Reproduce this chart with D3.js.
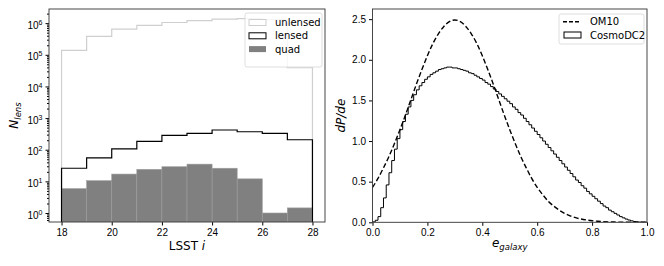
<!DOCTYPE html>
<html>
<head>
<meta charset="utf-8">
<script src="https://cdn.jsdelivr.net/npm/d3@7"></script>
<style>
  body { margin: 0; background: #fff; }
  svg { font-family: "DejaVu Sans", sans-serif; }
  .tick text { font-size: 10px; fill: #000; }
</style>
</head>
<body>
<svg></svg>
<script>
// ---------- data ----------
// left panel: magnitude bins (LSST i), counts per bin
const binEdges = [18, 19, 20, 21, 22, 23, 24, 25, 26, 27, 28];
const unlensed = [1.37e5, 3.8e5, 6.5e5, 8.5e5, 1.05e6, 1.2e6, 1.35e6, 1.4e6, 1.3e6, 3.9e4];
const lensed = [26, 55, 107, 183, 285, 330, 420, 370, 330, 207];
const quad = [5.9, 10.5, 17, 24, 29, 35, 26, 12, 1.0, 1.45];

// right panel: OM10 curve, sampled every 0.02 in e
const om10E = d3.range(0, 51).map(i => i * 0.02);
const om10P = [0.43, 0.54, 0.67, 0.81, 0.97, 1.14, 1.32, 1.51, 1.70, 1.88,
  2.05, 2.20, 2.32, 2.41, 2.47, 2.49, 2.47, 2.41, 2.32, 2.20,
  2.05, 1.88, 1.70, 1.51, 1.32, 1.14, 0.97, 0.81, 0.67, 0.54,
  0.43, 0.34, 0.26, 0.20, 0.15, 0.11, 0.08, 0.057, 0.04, 0.028,
  0.019, 0.013, 0.008, 0.005, 0.003, 0.002, 0.001, 0.001, 0, 0, 0];

// CosmoDC2 histogram, 100 bins of width 0.01
const dcBinWidth = 0.01;
const dcP = [0.005, 0.025, 0.07, 0.18, 0.30, 0.46, 0.61, 0.76, 0.90, 1.03,
  1.14, 1.24, 1.33, 1.42, 1.50, 1.57, 1.63, 1.68, 1.72, 1.76,
  1.79, 1.82, 1.84, 1.86, 1.88, 1.89, 1.90, 1.91, 1.91, 1.90,
  1.90, 1.89, 1.88, 1.87, 1.86, 1.84, 1.83, 1.81, 1.79, 1.77,
  1.75, 1.72, 1.70, 1.67, 1.64, 1.61, 1.58, 1.55, 1.52, 1.49,
  1.46, 1.42, 1.39, 1.35, 1.32, 1.28, 1.24, 1.20, 1.16, 1.12,
  1.08, 1.04, 1.00, 0.96, 0.92, 0.88, 0.84, 0.80, 0.76, 0.72,
  0.68, 0.64, 0.60, 0.56, 0.52, 0.49, 0.45, 0.42, 0.38, 0.35,
  0.32, 0.29, 0.26, 0.23, 0.20, 0.18, 0.15, 0.13, 0.11, 0.09,
  0.07, 0.055, 0.04, 0.028, 0.018, 0.01, 0.005, 0.002, 0.001, 0.0005];

const leftXTicks = [18, 20, 22, 24, 26, 28];
const leftYTicks = [1, 10, 100, 1e3, 1e4, 1e5, 1e6];
const rightXTicks = [0, 0.2, 0.4, 0.6, 0.8, 1.0];
const rightYTicks = [0, 0.5, 1.0, 1.5, 2.0, 2.5];

// ---------- setup ----------
const size = {w: 664, h: 266};
const svg = d3.select('svg').attr('width', size.w).attr('height', size.h);

const L = {l: 49, r: 325, t: 9, b: 222};
const R = {l: 372.5, r: 647, t: 9, b: 222.3};

// left scales
const xL = d3.scaleLinear().domain([17.5, 28.5]).range([L.l, L.r]);
const yL = d3.scaleLog().domain([0.52, 2.8e6]).range([L.b, L.t]);
// right scales
const xR = d3.scaleLinear().domain([0, 1]).range([R.l, R.r]);
const yR = d3.scaleLinear().domain([0, 2.625]).range([R.b, R.t]);

svg.append('defs').append('clipPath').attr('id', 'clipL')
  .append('rect').attr('x', L.l).attr('y', L.t).attr('width', L.r - L.l).attr('height', L.b - L.t);
svg.select('defs').append('clipPath').attr('id', 'clipR')
  .append('rect').attr('x', R.l).attr('y', R.t).attr('width', R.r - R.l).attr('height', R.b - R.t);

// step outline for histtype='step'
function stepPath(edges, vals, x, y, base) {
  let p = `M${x(edges[0])},${y(base)}`;
  vals.forEach((v, i) => {
    p += `L${x(edges[i])},${y(v)}L${x(edges[i + 1])},${y(v)}`;
  });
  p += `L${x(edges[edges.length - 1])},${y(base)}`;
  return p;
}

// ---------- LEFT PANEL ----------
const gL = svg.append('g').attr('clip-path', 'url(#clipL)');

// quad bars (filled)
gL.selectAll('rect.quad')
  .data(quad)
  .join('rect')
  .attr('class', 'quad')
  .attr('x', (d, i) => xL(binEdges[i]))
  .attr('width', (d, i) => xL(binEdges[i + 1]) - xL(binEdges[i]))
  .attr('y', d => yL(d))
  .attr('height', d => yL(0.52) - yL(d))
  .attr('fill', '#808080')
  .attr('stroke', '#9c9c9c')
  .attr('stroke-width', 0.6);

gL.append('path')
  .attr('d', stepPath(binEdges, unlensed, xL, yL, 0.52))
  .attr('fill', 'none')
  .attr('stroke', '#cfcfcf')
  .attr('stroke-width', 1.2);

gL.append('path')
  .attr('d', stepPath(binEdges, lensed, xL, yL, 0.52))
  .attr('fill', 'none')
  .attr('stroke', '#000')
  .attr('stroke-width', 1.2);

// axes
svg.append('g')
  .attr('transform', `translate(0,${L.b})`)
  .call(d3.axisBottom(xL).tickValues(leftXTicks).tickSize(3.5).tickPadding(3).tickFormat(d3.format('d')))
  .call(g => g.select('.domain').remove());

const minorL = [];
for (let e = -1; e <= 6; e++) {
  for (let k = 2; k <= 9; k++) {
    const v = k * Math.pow(10, e);
    if (v > 0.52 && v < 2.8e6) minorL.push(v);
  }
}
svg.append('g')
  .attr('transform', `translate(${L.l},0)`)
  .call(d3.axisLeft(yL).tickValues(minorL).tickSize(2).tickFormat(''))
  .call(g => g.select('.domain').remove());

const yAxL = svg.append('g')
  .attr('transform', `translate(${L.l},0)`)
  .call(d3.axisLeft(yL).tickValues(leftYTicks).tickSize(3.5).tickPadding(3).tickFormat(''))
  .call(g => g.select('.domain').remove());
yAxL.selectAll('.tick text').each(function (d) {
  const t = d3.select(this);
  t.append('tspan').text('10');
  t.append('tspan').attr('dy', -4).attr('font-size', '7px').text(Math.round(Math.log10(d)));
}).attr('dy', '0.5em');

svg.append('rect')
  .attr('x', L.l).attr('y', L.t).attr('width', L.r - L.l).attr('height', L.b - L.t)
  .attr('fill', 'none').attr('stroke', '#333').attr('stroke-width', 0.9);

svg.append('text')
  .attr('x', (L.l + L.r) / 2).attr('y', 250)
  .attr('text-anchor', 'middle').attr('font-size', '12px')
  .call(t => {
    t.append('tspan').text('LSST ');
    t.append('tspan').attr('font-style', 'italic').text('i');
  });

svg.append('text')
  .attr('transform', `translate(18,${(L.t + L.b) / 2}) rotate(-90)`)
  .attr('text-anchor', 'middle').attr('font-size', '12px').attr('font-style', 'italic')
  .call(t => {
    t.append('tspan').text('N');
    t.append('tspan').attr('dy', 3).attr('font-size', '8.5px').text('lens');
  });

// legend (left)
const legL = svg.append('g');
legL.append('rect')
  .attr('x', 245).attr('y', 13).attr('width', 77).attr('height', 54).attr('rx', 2)
  .attr('fill', 'rgba(255,255,255,0.8)').attr('stroke', '#d6d6d6').attr('stroke-width', 0.8);
const legLItems = [
  {label: 'unlensed', fill: 'none', stroke: '#cfcfcf'},
  {label: 'lensed', fill: 'none', stroke: '#000'},
  {label: 'quad', fill: '#808080', stroke: 'none'}
];
legLItems.forEach((d, i) => {
  const yy = 22.5 + i * 13.3;
  legL.append('rect').attr('x', 249).attr('y', yy - 3).attr('width', 17).attr('height', 6)
    .attr('fill', d.fill).attr('stroke', d.stroke).attr('stroke-width', 1);
  legL.append('text').attr('x', 275).attr('y', yy).attr('dy', '0.35em')
    .attr('font-size', '10px').text(d.label);
});

// ---------- RIGHT PANEL ----------
const gR = svg.append('g').attr('clip-path', 'url(#clipR)');

const dcEdges = d3.range(0, dcP.length + 1).map(i => i * dcBinWidth);
gR.append('path')
  .attr('d', stepPath(dcEdges, dcP, xR, yR, 0))
  .attr('fill', 'none').attr('stroke', '#000').attr('stroke-width', 1);

gR.append('path')
  .datum(om10P)
  .attr('d', d3.line().x((d, i) => xR(om10E[i])).y(d => yR(d)).curve(d3.curveMonotoneX))
  .attr('fill', 'none').attr('stroke', '#000').attr('stroke-width', 1.4)
  .attr('stroke-dasharray', '5,2.5');

svg.append('g')
  .attr('transform', `translate(0,${R.b})`)
  .call(d3.axisBottom(xR).tickValues(rightXTicks).tickSize(3.5).tickPadding(3).tickFormat(d3.format('.1f')))
  .call(g => g.select('.domain').remove());

svg.append('g')
  .attr('transform', `translate(${R.l},0)`)
  .call(d3.axisLeft(yR).tickValues(rightYTicks).tickSize(3.5).tickPadding(3).tickFormat(d3.format('.1f')))
  .call(g => g.select('.domain').remove());

svg.append('rect')
  .attr('x', R.l).attr('y', R.t).attr('width', R.r - R.l).attr('height', R.b - R.t)
  .attr('fill', 'none').attr('stroke', '#333').attr('stroke-width', 0.9);

svg.append('text')
  .attr('x', (R.l + R.r) / 2).attr('y', 247)
  .attr('text-anchor', 'middle').attr('font-size', '12px').attr('font-style', 'italic')
  .call(t => {
    t.append('tspan').text('e');
    t.append('tspan').attr('dy', 3).attr('font-size', '8.5px').text('galaxy');
  });

svg.append('text')
  .attr('transform', `translate(345,${(R.t + R.b) / 2}) rotate(-90)`)
  .attr('text-anchor', 'middle').attr('font-size', '12px').attr('font-style', 'italic')
  .text('dP/de');

// legend (right)
const legR = svg.append('g');
legR.append('rect')
  .attr('x', 559).attr('y', 14).attr('width', 85).attr('height', 30).attr('rx', 2)
  .attr('fill', 'rgba(255,255,255,0.8)').attr('stroke', '#d6d6d6').attr('stroke-width', 0.8);
legR.append('line').attr('x1', 563).attr('x2', 581).attr('y1', 21.7).attr('y2', 21.7)
  .attr('stroke', '#000').attr('stroke-width', 1.4).attr('stroke-dasharray', '4,2');
legR.append('text').attr('x', 590).attr('y', 21.7).attr('dy', '0.35em').attr('font-size', '10px').text('OM10');
legR.append('rect').attr('x', 564).attr('y', 32).attr('width', 17).attr('height', 6)
  .attr('fill', 'none').attr('stroke', '#000').attr('stroke-width', 1);
legR.append('text').attr('x', 590).attr('y', 35).attr('dy', '0.35em').attr('font-size', '10px').text('CosmoDC2');
</script>
</body>
</html>
